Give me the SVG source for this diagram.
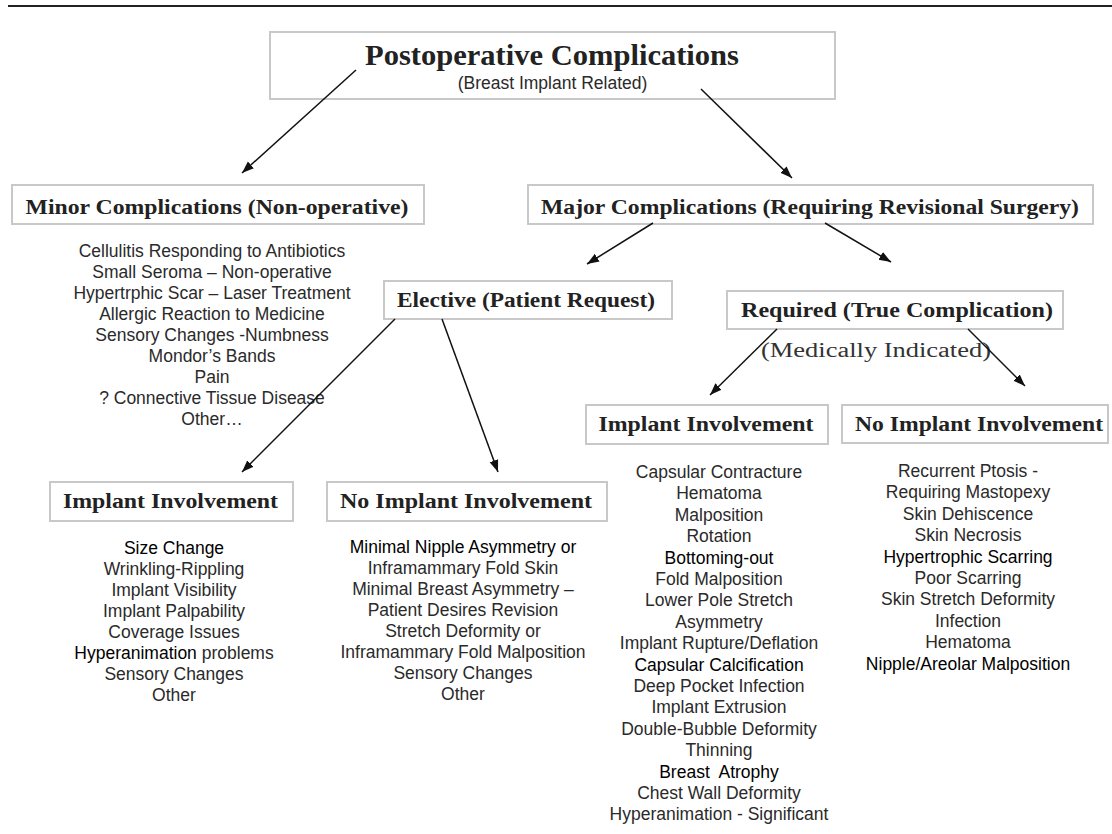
<svg xmlns="http://www.w3.org/2000/svg" width="1112" height="834" viewBox="0 0 1112 834">
<style>
.box{fill:#fff;stroke:#c8c8c8;stroke-width:2}
.h{font-family:"Liberation Serif","Times New Roman",serif;font-weight:bold;font-size:20px;fill:#222;text-anchor:middle}
.t{font-family:"Liberation Serif","Times New Roman",serif;font-weight:bold;font-size:30px;fill:#222;text-anchor:middle}
.m{font-family:"Liberation Serif","Times New Roman",serif;font-size:20px;fill:#333;text-anchor:middle}
.s{font-family:"Liberation Sans",Arial,sans-serif;font-size:17.5px;fill:#2a2a2a;text-anchor:middle;white-space:pre}
.d{fill:#000}
.c line{stroke:#111;stroke-width:1.5;marker-end:url(#ah)}
</style>
<defs>
<marker id="ah" markerUnits="userSpaceOnUse" markerWidth="13" markerHeight="10" refX="12" refY="4.5" orient="auto">
<path d="M0,0 L12,4.5 L0,9 z" fill="#111"/>
</marker>
</defs>
<rect width="1112" height="834" fill="#fff"/>
<line x1="8" y1="6" x2="1112" y2="6" stroke="#222" stroke-width="2"/>

<g id="root">
<rect class="box" x="270" y="32" width="565" height="67"/>
<text class="t" x="552" y="65" textLength="374" lengthAdjust="spacingAndGlyphs">Postoperative Complications</text>
<text class="s" x="552.5" y="89">(Breast Implant Related)</text>
</g>

<g id="minor">
<rect class="box" x="12" y="185" width="412" height="39"/>
<text class="h" x="217" y="214" textLength="383" lengthAdjust="spacingAndGlyphs">Minor Complications (Non-operative)</text>
<text class="s" x="212" y="257">Cellulitis Responding to Antibiotics<tspan x="212" dy="21">Small Seroma – Non-operative</tspan><tspan x="212" dy="21">Hypertrphic Scar – Laser Treatment</tspan><tspan x="212" dy="21">Allergic Reaction to Medicine</tspan><tspan x="212" dy="21">Sensory Changes -Numbness</tspan><tspan x="212" dy="21">Mondor’s Bands</tspan><tspan x="212" dy="21">Pain</tspan><tspan x="212" dy="21">? Connective Tissue Disease</tspan><tspan x="212" dy="21">Other…</tspan></text>
</g>

<g id="major">
<rect class="box" x="528" y="185" width="565" height="39"/>
<text class="h" x="810" y="214" textLength="538" lengthAdjust="spacingAndGlyphs">Major Complications (Requiring Revisional Surgery)</text>
</g>

<g id="elective">
<rect class="box" x="384" y="281" width="288" height="38"/>
<text class="h" x="526" y="307" textLength="258" lengthAdjust="spacingAndGlyphs">Elective (Patient Request)</text>
</g>

<g id="required">
<rect class="box" x="727" y="291" width="336" height="38"/>
<text class="h" x="897" y="317" textLength="312" lengthAdjust="spacingAndGlyphs">Required (True Complication)</text>
<text class="m" x="876" y="357" textLength="230" lengthAdjust="spacingAndGlyphs">(Medically Indicated)</text>
</g>

<g id="elective-implant">
<rect class="box" x="50" y="482" width="243" height="39"/>
<text class="h" x="170.5" y="508" textLength="215" lengthAdjust="spacingAndGlyphs">Implant Involvement</text>
<text class="s" x="174" y="554"><tspan class="d">Size Change</tspan><tspan x="174" dy="21">Wrinkling-Rippling</tspan><tspan x="174" dy="21">Implant Visibility</tspan><tspan x="174" dy="21">Implant Palpability</tspan><tspan x="174" dy="21">Coverage Issues</tspan><tspan x="174" dy="21"><tspan class="d">Hyperanimation</tspan> problems</tspan><tspan x="174" dy="21">Sensory Changes</tspan><tspan x="174" dy="21">Other</tspan></text>
</g>

<g id="elective-noimplant">
<rect class="box" x="327" y="482" width="280" height="39"/>
<text class="h" x="466" y="508" textLength="252" lengthAdjust="spacingAndGlyphs">No Implant Involvement</text>
<text class="s" x="463" y="553"><tspan class="d">Minimal Nipple Asymmetry or</tspan><tspan x="463" dy="21">Inframammary Fold Skin</tspan><tspan x="463" dy="21">Minimal Breast Asymmetry –</tspan><tspan x="463" dy="21">Patient Desires Revision</tspan><tspan x="463" dy="21">Stretch Deformity or</tspan><tspan x="463" dy="21">Inframammary Fold Malposition</tspan><tspan x="463" dy="21">Sensory Changes</tspan><tspan x="463" dy="21">Other</tspan></text>
</g>

<g id="required-implant">
<rect class="box" x="586" y="405" width="242" height="39"/>
<text class="h" x="706" y="431" textLength="215" lengthAdjust="spacingAndGlyphs">Implant Involvement</text>
<text class="s" x="719" y="478">Capsular Contracture<tspan x="719" dy="21.4">Hematoma</tspan><tspan x="719" dy="21.4">Malposition</tspan><tspan x="719" dy="21.4">Rotation</tspan><tspan x="719" dy="21.4" class="d">Bottoming-out</tspan><tspan x="719" dy="21.4">Fold Malposition</tspan><tspan x="719" dy="21.4">Lower Pole Stretch</tspan><tspan x="719" dy="21.4">Asymmetry</tspan><tspan x="719" dy="21.4">Implant Rupture/Deflation</tspan><tspan x="719" dy="21.4" class="d">Capsular Calcification</tspan><tspan x="719" dy="21.4">Deep Pocket Infection</tspan><tspan x="719" dy="21.4">Implant Extrusion</tspan><tspan x="719" dy="21.4">Double-Bubble Deformity</tspan><tspan x="719" dy="21.4">Thinning</tspan><tspan x="719" dy="21.4" class="d">Breast  Atrophy</tspan><tspan x="719" dy="21.4">Chest Wall Deformity</tspan><tspan x="719" dy="21.4">Hyperanimation - Significant</tspan></text>
</g>

<g id="required-noimplant">
<rect class="box" x="842" y="405" width="266" height="38"/>
<text class="h" x="979" y="431" textLength="248" lengthAdjust="spacingAndGlyphs">No Implant Involvement</text>
<text class="s" x="968" y="477">Recurrent Ptosis -<tspan x="968" dy="21.4">Requiring Mastopexy</tspan><tspan x="968" dy="21.4">Skin Dehiscence</tspan><tspan x="968" dy="21.4">Skin Necrosis</tspan><tspan x="968" dy="21.4" class="d">Hypertrophic Scarring</tspan><tspan x="968" dy="21.4">Poor Scarring</tspan><tspan x="968" dy="21.4">Skin Stretch Deformity</tspan><tspan x="968" dy="21.4">Infection</tspan><tspan x="968" dy="21.4">Hematoma</tspan><tspan x="968" dy="21.4" class="d">Nipple/Areolar Malposition</tspan></text>
</g>

<g id="connectors" class="c">
<line x1="356" y1="70" x2="242" y2="173"/>
<line x1="701" y1="89" x2="792" y2="178"/>
<line x1="653" y1="223" x2="587" y2="264"/>
<line x1="825" y1="223" x2="891" y2="262"/>
<line x1="395" y1="319" x2="242" y2="472"/>
<line x1="442" y1="319" x2="498" y2="472"/>
<line x1="777" y1="329" x2="710" y2="395"/>
<line x1="968" y1="329" x2="1025" y2="386"/>
</g>
</svg>
